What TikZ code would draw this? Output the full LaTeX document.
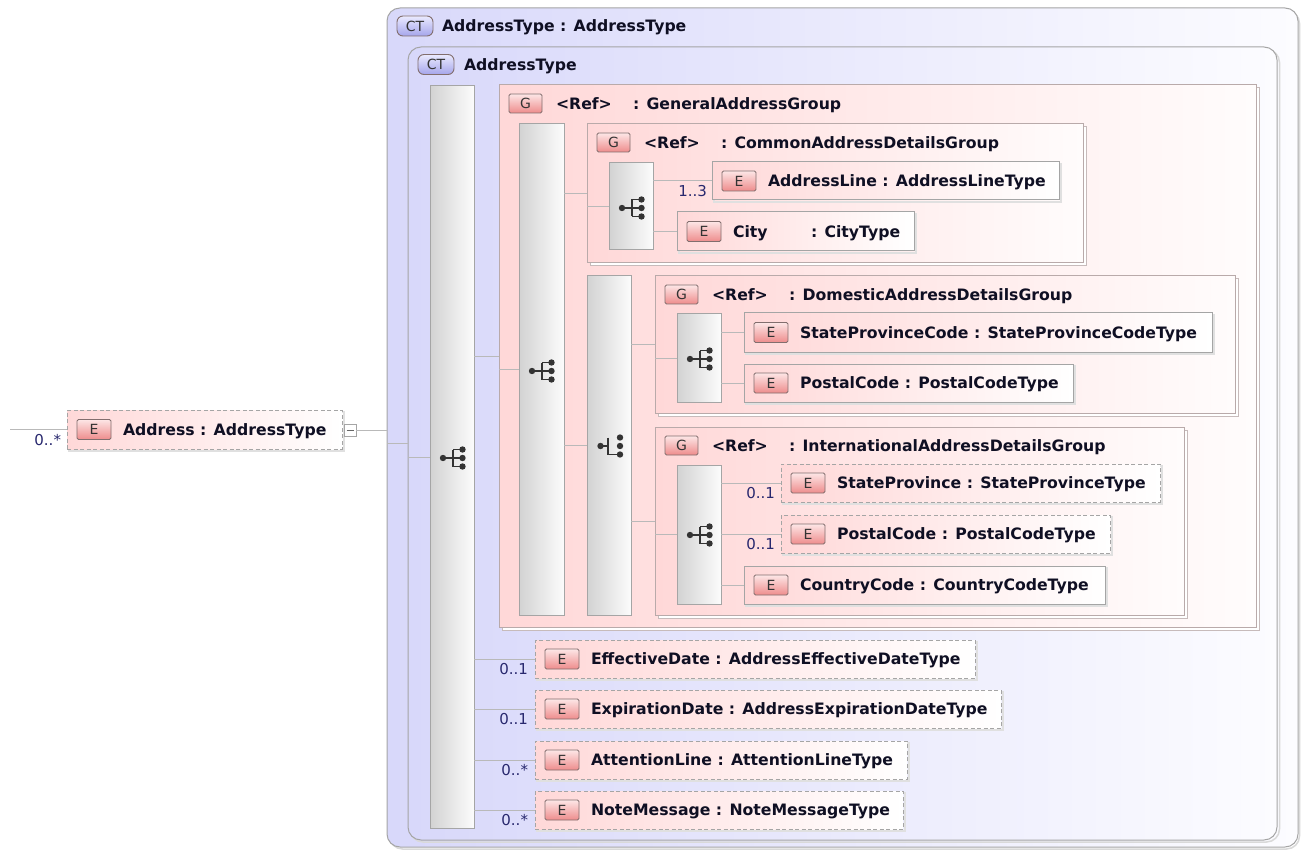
\documentclass[tikz,border=0pt]{standalone}
\usepackage{fontspec}
\setmainfont{DejaVu Sans}
\usetikzlibrary{calc}
\definecolor{ctl}{RGB}{216,216,250}
\definecolor{ctr}{RGB}{252,252,255}
\definecolor{pkl}{RGB}{255,216,216}
\definecolor{pkr}{RGB}{255,252,252}
\definecolor{sql}{RGB}{210,210,210}
\definecolor{sqr}{RGB}{252,252,252}
\definecolor{bd}{RGB}{165,165,165}
\definecolor{gbd}{RGB}{185,170,170}
\definecolor{conncol}{RGB}{185,185,185}
\definecolor{mult}{RGB}{40,40,110}
\definecolor{txt}{RGB}{15,15,35}
\definecolor{ebd}{RGB}{130,110,110}
\definecolor{ebt}{RGB}{253,230,230}
\definecolor{ebb}{RGB}{238,140,140}
\definecolor{ctbt}{RGB}{234,234,255}
\definecolor{ctbb}{RGB}{165,165,235}
\newcommand\bx[6]{\node[#2, anchor=north west, minimum width={(#5)-(#3)}, minimum height={(#6)-(#4)}] (#1) at (#3,#4) {};}
\newcommand\gsh[4]{\draw[gshadow] ({#1+3},{#2+3}) rectangle ({#3+3},{#4+3});}
\newcommand\esh[4]{\draw[eshadow] ({#1+2},{#2+2}) rectangle ({#3+2},{#4+2});}
\newcommand\el[7]{\esh{#3}{#4}{#5}{#6}\bx{#1}{#2}{#3}{#4}{#5}{#6}%
  \node[badge] (#1-b) at ({#3+27},{(#4+#6)/2}) {E};%
  \node[lbl] (#1-t) at ({#3+56},{(#4+#6)/2+5.6}) {#7};}
\newcommand\grp[6]{\gsh{#2}{#3}{#4}{#5}\bx{#1}{grpbox}{#2}{#3}{#4}{#5}%
  \node[gbadge] (#1-b) at ({#2+26.5},{#3+18.5}) {G};%
  \node[lbl] (#1-r) at ({#2+57},{#3+24.1}) {<Ref>};%
  \node[lbl] (#1-t) at ({#2+134},{#3+24.1}) {#6};}
\newcommand\seqicon[2]{\begin{scope}[shift={(#1,#2)}]
  \draw[icon] (-10,0) -- (0,0) (0,-8.5) -- (0,8.5) (0,-8.5) -- (9.5,-8.5) (0,8.5) -- (9.5,8.5) (0,0) -- (9.5,0);
  \fill[black!80] (-10,0) circle (3.2pt) (9.5,-8.5) circle (3.2pt) (9.5,0) circle (3.2pt) (9.5,8.5) circle (3.2pt);
\end{scope}}
\newcommand\choiceicon[2]{\begin{scope}[shift={(#1,#2)}]
  \draw[icon] (-7.5,0) -- (0,0) (0,-8.5) -- (0,8.5) -- (12,8.5);
  \fill[black!80] (-7.5,0) circle (3.2pt) (12,-8.5) circle (3.2pt) (12,0) circle (3.2pt) (12,8.5) circle (3.2pt);
\end{scope}}
\begin{document}
\begin{tikzpicture}[x=1pt,y=-1pt,
  every node/.style={inner sep=0pt, outer sep=0pt},
  ctbox/.style={draw=bd, line width=1pt, rounded corners=13pt, left color=ctl, right color=ctr},
  grpbox/.style={draw=gbd, line width=1pt, left color=pkl, right color=pkr},
  elbox/.style={draw=bd, line width=1pt, left color=pkl, right color=white},
  optbox/.style={elbox, dash pattern=on 4pt off 2.5pt},
  seqbar/.style={draw=bd, line width=1pt, left color=sql, right color=sqr},
  gshadow/.style={draw=gbd!80, line width=1pt, fill=white},
  eshadow/.style={draw=black!12, line width=1.2pt},
  badge/.style={draw=ebd, line width=0.9pt, rounded corners=1.5pt, top color=ebt, bottom color=ebb, minimum width=34pt, minimum height=20pt, font=\fontsize{14}{14}\selectfont, text=black!80},
  gbadge/.style={badge, minimum width=33pt, minimum height=19pt},
  ctbadge/.style={badge, rounded corners=6pt, top color=ctbt, bottom color=ctbb, minimum width=36pt},
  lbl/.style={font=\fontsize{15.7}{18}\selectfont\bfseries, text=txt, anchor=base west},
  mlt/.style={font=\fontsize{15}{18}\selectfont, text=mult, anchor=base east},
  conn/.style={draw=conncol, line width=1pt},
  icon/.style={line width=1.3pt, draw=black!80},
]
\fill[white] (0,0) rectangle (1301,850);
\useasboundingbox (0,0) rectangle (1301,850);

% outer complex type
\draw[black!15, line width=1.5pt, rounded corners=13pt] (389.5,10.5) rectangle (1299.5,849);
\bx{cto}{ctbox}{387}{8}{1298}{847}
\node[ctbadge] (cto-b) at (415,26) {CT};
\node[lbl] (cto-t) at (442,31.6) {AddressType : AddressType};

% inner complex type
\draw[black!15, line width=1.5pt, rounded corners=13pt] (410,49.5) rectangle (1279.5,842);
\bx{cti}{ctbox}{408}{47}{1277}{840}
\node[ctbadge] (cti-b) at (436,64.5) {CT};
\node[lbl] (cti-t) at (464,70.1) {AddressType};

% main sequence
\bx{seqm}{seqbar}{430}{86}{474}{828}
\seqicon{453}{458}

% general group
\grp{gen}{499}{85}{1256}{627}{: GeneralAddressGroup}
\bx{seqg}{seqbar}{519}{124}{564}{615}
\seqicon{542}{371}

% common group
\grp{com}{587}{124}{1083}{263}{: CommonAddressDetailsGroup}
\bx{seqc}{seqbar}{609}{163}{653}{250}
\seqicon{632}{208}
\el{aline}{elbox}{712}{162}{1059}{200}{AddressLine : AddressLineType}
\el{city}{elbox}{677}{212}{914}{251}{City}
\node[lbl] (city-t2) at (811,237.1) {: CityType};

% choice
\bx{chc}{seqbar}{587}{276}{631}{615}
\choiceicon{608}{446}

% domestic group
\grp{dom}{655}{276}{1235}{413}{: DomesticAddressDetailsGroup}
\bx{seqd}{seqbar}{677}{314}{721}{402}
\seqicon{700}{359}
\el{spc}{elbox}{744}{313}{1212}{352}{StateProvinceCode : StateProvinceCodeType}
\el{pca}{elbox}{744}{364}{1073}{402}{PostalCode : PostalCodeType}

% international group
\grp{intl}{655}{427}{1184}{615}{: InternationalAddressDetailsGroup}
\bx{seqi}{seqbar}{677}{465}{721}{604}
\seqicon{700}{535}
\el{sp}{optbox}{781}{464}{1160}{502}{StateProvince : StateProvinceType}
\el{pcb}{optbox}{781}{515}{1110}{553}{PostalCode : PostalCodeType}
\el{cc}{elbox}{744}{566}{1105}{604}{CountryCode : CountryCodeType}

% remaining elements
\el{eff}{optbox}{535}{640}{975}{678}{EffectiveDate : AddressEffectiveDateType}
\el{exd}{optbox}{535}{690}{1001}{728}{ExpirationDate : AddressExpirationDateType}
\el{att}{optbox}{535}{741}{907}{779}{AttentionLine : AttentionLineType}
\el{nm}{optbox}{535}{791}{903}{829}{NoteMessage : NoteMessageType}

% root element
\el{addr}{optbox}{67}{410}{342}{449}{Address : AddressType}
\node[draw=bd, fill=white, minimum size=12pt, line width=0.8pt] (minus) at (350,430) {};
\draw[black!60, line width=1pt] ([xshift=-3.5pt]minus.center) -- ([xshift=3.5pt]minus.center);

% connectors
\coordinate (start) at (10,429.5);
\draw[conn] (start) -- (addr.west);
\draw[conn] (minus.east) -- (minus.east -| cto.west);
\draw[conn] (cto.west |- cti.west) -- (cti.west);
\draw[conn] (cti.west |- seqm.west) -- (seqm.west);
\foreach \n in {gen,eff,exd,att,nm} \draw[conn] (seqm.east |- \n.west) -- (\n.west);
\draw[conn] (gen.west |- seqg.west) -- (seqg.west);
\foreach \n in {com,chc} \draw[conn] (seqg.east |- \n.west) -- (\n.west);
\draw[conn] (com.west |- seqc.west) -- (seqc.west);
\foreach \n in {aline,city} \draw[conn] (seqc.east |- \n.west) -- (\n.west);
\foreach \n in {dom,intl} \draw[conn] (chc.east |- \n.west) -- (\n.west);
\draw[conn] (dom.west |- seqd.west) -- (seqd.west);
\foreach \n in {spc,pca} \draw[conn] (seqd.east |- \n.west) -- (\n.west);
\draw[conn] (intl.west |- seqi.west) -- (seqi.west);
\foreach \n in {sp,pcb,cc} \draw[conn] (seqi.east |- \n.west) -- (\n.west);

% multiplicities
\node[mlt] (m-addr) at (61,445) {0..*};
\node[mlt] (m-aline) at (707,196.5) {1..3};
\node[mlt] (m-sp) at (775,498.5) {0..1};
\node[mlt] (m-pcb) at (775,549.5) {0..1};
\node[mlt] (m-eff) at (528,674.5) {0..1};
\node[mlt] (m-exd) at (528,724.5) {0..1};
\node[mlt] (m-att) at (528,775.5) {0..*};
\node[mlt] (m-nm) at (528,825.5) {0..*};
\end{tikzpicture}
\end{document}
